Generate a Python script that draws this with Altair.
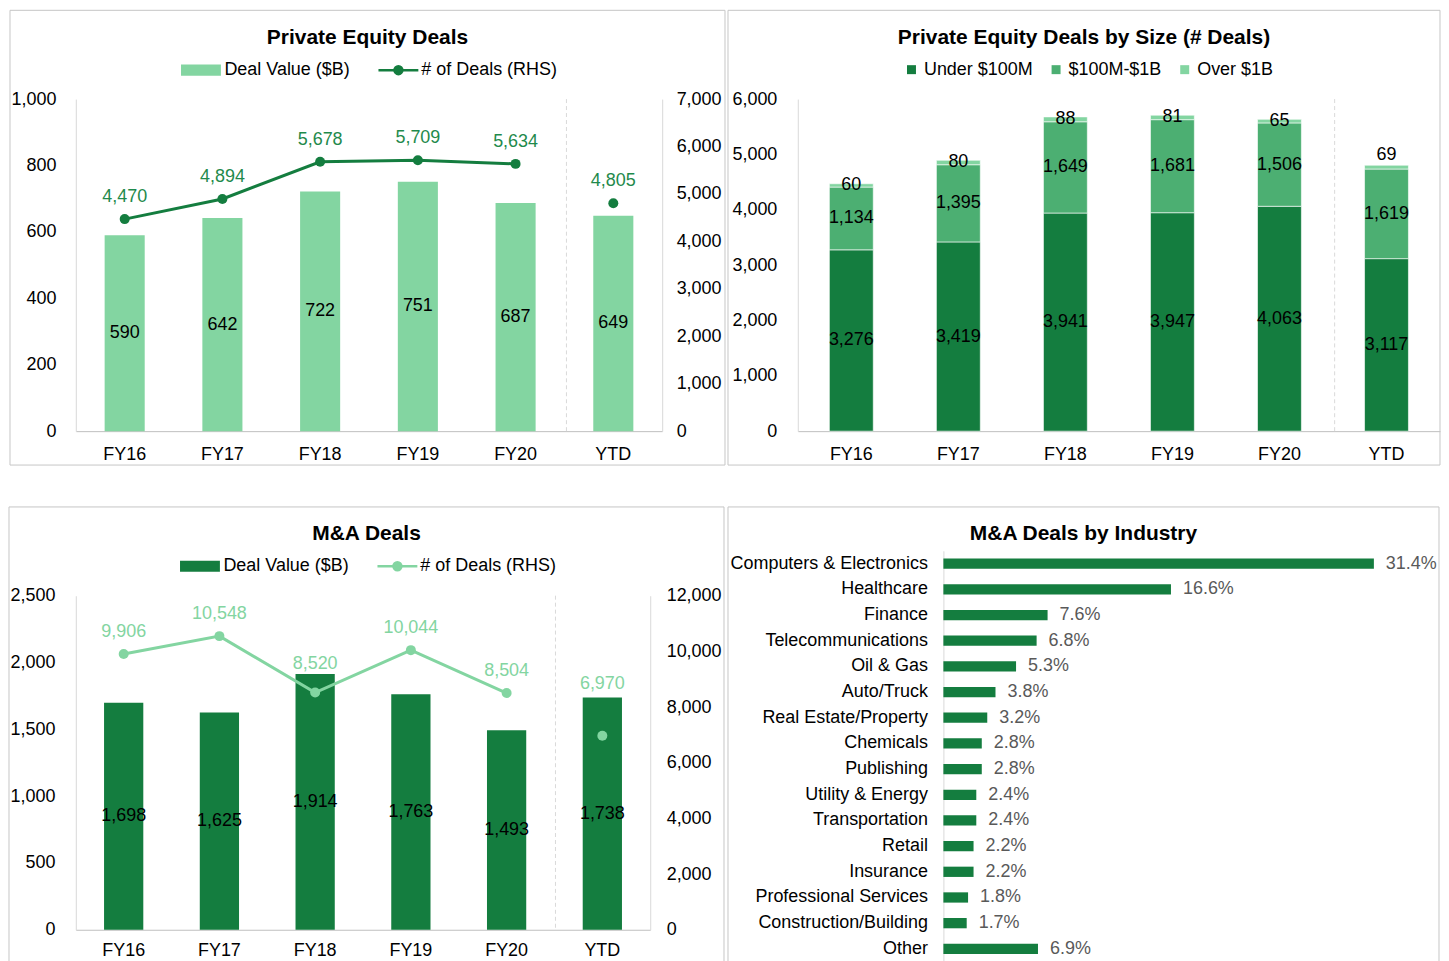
import altair as alt
import pandas as pd

# ---------------- data ----------------
cats = ["FY16", "FY17", "FY18", "FY19", "FY20", "YTD"]

pe_value = [590, 642, 722, 751, 687, 649]
pe_deals = [4470, 4894, 5678, 5709, 5634, 4805]

size_series = ["Under $100M", "$100M-$1B", "Over $1B"]
size_under = [3276, 3419, 3941, 3947, 4063, 3117]
size_mid = [1134, 1395, 1649, 1681, 1506, 1619]
size_over = [60, 80, 88, 81, 65, 69]

ma_value = [1698, 1625, 1914, 1763, 1493, 1738]
ma_deals = [9906, 10548, 8520, 10044, 8504, 6970]

industries = ["Computers & Electronics", "Healthcare", "Finance", "Telecommunications",
              "Oil & Gas", "Auto/Truck", "Real Estate/Property", "Chemicals", "Publishing",
              "Utility & Energy", "Transportation", "Retail", "Insurance",
              "Professional Services", "Construction/Building", "Other"]
industry_pct = [31.4, 16.6, 7.6, 6.8, 5.3, 3.8, 3.2, 2.8, 2.8, 2.4, 2.4, 2.2, 2.2, 1.8, 1.7, 6.9]

pe_left_ticks = [0, 200, 400, 600, 800, 1000]
pe_right_ticks = [0, 1000, 2000, 3000, 4000, 5000, 6000, 7000]
size_ticks = [0, 1000, 2000, 3000, 4000, 5000, 6000]
ma_left_ticks = [0, 500, 1000, 1500, 2000, 2500]
ma_right_ticks = [0, 2000, 4000, 6000, 8000, 10000, 12000]

# ---------------- style ----------------
FONT = "Liberation Sans"
FS = 18
DARK = "#147d3f"
MID = "#4caf72"
LIGHT = "#83d5a1"
PE_LABEL = "#1f8a4c"
VGRAY = "#d9d9d9"
HGRAY = "#bfbfbf"
BORDER = "#c6c6c6"
PCT_GRAY = "#595959"

BAR_SYMBOL = "M-1,-0.28H1V0.28H-1Z"
LINE_SYMBOL = "M-1,0H1M0.2,0A0.2,0.2,0,1,1,-0.2,0A0.2,0.2,0,1,1,0.2,0Z"
TITLE_OFFSET = -49


def title_params(text):
    return alt.TitleParams(text, font=FONT, fontSize=21, fontWeight="bold", color="black",
                           anchor="middle", frame="bounds", offset=TITLE_OFFSET,
                           baseline="middle")


def frame(x1, x2, y1, y2):
    return alt.Chart(pd.DataFrame({"frame": [0]})).mark_rect(
        fillOpacity=0, stroke=BORDER, strokeWidth=1
    ).encode(x=alt.value(x1), x2=alt.value(x2), y=alt.value(y1), y2=alt.value(y2))


def x_enc(pad):
    return alt.X("cat:N", sort=cats, title=None,
                 scale=alt.Scale(paddingInner=0.59, paddingOuter=0.295),
                 axis=alt.Axis(labelAngle=0, ticks=False, tickSize=0, domainColor=HGRAY,
                               labelPadding=pad, labelFont=FONT, labelFontSize=FS,
                               labelColor="black", grid=False, title=None))


def y_axis(values, orient, pad):
    return alt.Axis(orient=orient, values=values, format=",.0f", ticks=False, tickSize=0,
                    grid=False, domainColor=VGRAY, labelPadding=pad, labelFont=FONT,
                    labelFontSize=FS, labelColor="black", title=None)


def legend(x, y, symbol, offset, stroke_color=None, stroke_width=0, size=1600, **kw):
    args = dict(title=None, orient="none", legendX=x, legendY=y, symbolType=symbol,
                symbolSize=size, symbolStrokeWidth=stroke_width, labelOffset=offset,
                labelFont=FONT, labelFontSize=FS, labelColor="black", padding=0,
                labelLimit=400)
    if stroke_color:
        args["symbolStrokeColor"] = stroke_color
    args.update(kw)
    return alt.Legend(**args)


def combo_panel(title, values, deals, bar_color, line_color, label_color, left_ticks,
                right_ticks, W, H, fr, rule_dx, lab_dy, special_dy, xpad, lpad, rpad,
                leg_bar, leg_line):
    df = pd.DataFrame({"cat": cats, "value": values, "deals": deals,
                       "bar_series": ["Deal Value ($B)"] * len(cats),
                       "line_series": ["# of Deals (RHS)"] * len(cats)})
    base = alt.Chart(df)
    x = x_enc(xpad)
    yl_scale = alt.Scale(domain=[left_ticks[0], left_ticks[-1]], nice=False)
    yl_axis = y_axis(left_ticks, "left", lpad)
    yr_scale = alt.Scale(domain=[right_ticks[0], right_ticks[-1]], nice=False)
    yr_axis = y_axis(right_ticks, "right", rpad)

    bars = base.mark_bar().encode(
        x=x,
        y=alt.Y("value:Q", scale=yl_scale, axis=yl_axis),
        color=alt.Color("bar_series:N", scale=alt.Scale(range=[bar_color]),
                        legend=legend(leg_bar[0], leg_bar[1], BAR_SYMBOL, leg_bar[2])),
    )
    bar_text = base.transform_calculate(mid="datum.value / 2").mark_text(
        font=FONT, fontSize=FS, color="black", baseline="middle"
    ).encode(x=x, y=alt.Y("mid:Q", scale=yl_scale, axis=yl_axis),
             text=alt.Text("value:Q", format=","))
    rule = base.transform_filter("datum.cat == 'YTD'").mark_rule(
        xOffset=rule_dx, color=VGRAY, strokeDash=[4, 3], strokeWidth=1
    ).encode(x=x)
    left = alt.layer(frame(*fr), bars, bar_text, rule)

    yr = alt.Y("deals:Q", scale=yr_scale, axis=yr_axis)
    line = base.transform_filter("datum.cat != 'YTD'").mark_line(
        color=line_color, strokeWidth=3).encode(x=x, y=yr)
    pts = base.mark_circle(size=100, opacity=1).encode(
        x=x, y=yr,
        color=alt.Color("line_series:N", scale=alt.Scale(range=[line_color]),
                        legend=legend(leg_line[0], leg_line[1], LINE_SYMBOL, leg_line[2],
                                      stroke_color=line_color, stroke_width=2.5)),
    )
    special_list = "[" + ",".join("'%s'" % c for c in special_dy) + "]"
    texts = [base.transform_filter("indexof(%s, datum.cat) < 0" % special_list).mark_text(
        font=FONT, fontSize=FS, color=label_color, baseline="middle", dy=lab_dy
    ).encode(x=x, y=yr, text=alt.Text("deals:Q", format=","))]
    for c, d in special_dy.items():
        texts.append(base.transform_filter("datum.cat == '%s'" % c).mark_text(
            font=FONT, fontSize=FS, color=label_color, baseline="middle", dy=d
        ).encode(x=x, y=yr, text=alt.Text("deals:Q", format=",")))
    right = alt.layer(line, pts, *texts)

    return alt.layer(left, right).resolve_scale(y="independent", color="independent").properties(
        width=W, height=H, title=title_params(title))


# ---------- Top-left: Private Equity Deals ----------
tl = combo_panel("Private Equity Deals", pe_value, pe_deals, LIGHT, DARK, PE_LABEL,
                 pe_left_ticks, pe_right_ticks, 588, 333, (-66, 651, -89, 367),
                 -47, -22, {"YTD": -22}, 14, 20, 14, (105.5, -49, 3.5), (302, -50.5, 1.5))

# ---------- Top-right: PE deals by size ----------
size_df = pd.DataFrame({
    "cat": cats * 3,
    "series": [s for s in size_series for _ in cats],
    "value": size_under + size_mid + size_over,
    "order": [i for i in range(3) for _ in cats],
})
sbase = alt.Chart(size_df).transform_stack(
    stack="value", groupby=["cat"], as_=["v0", "v1"],
    sort=[alt.SortField("order", order="ascending")]
).transform_calculate(mid="(datum.v0 + datum.v1) / 2")
sx = x_enc(14)
s_scale = alt.Scale(domain=[0, 6000], nice=False)
s_axis = y_axis(size_ticks, "left", 21)
s_bars = sbase.mark_bar(stroke="white", strokeWidth=0.6).encode(
    x=sx,
    y=alt.Y("v0:Q", scale=s_scale, axis=s_axis),
    y2="v1:Q",
    color=alt.Color("series:N", sort=size_series,
                    scale=alt.Scale(domain=size_series, range=[DARK, MID, LIGHT]),
                    legend=legend(105, -38.5, "square", 3.5, size=81, direction="horizontal",
                                  columnPadding=14)),
)
s_text = sbase.transform_filter("!(datum.cat == 'YTD' && datum.series == 'Over $1B')").mark_text(
    font=FONT, fontSize=FS, color="black", baseline="middle"
).encode(x=sx, y=alt.Y("mid:Q", scale=s_scale, axis=s_axis),
         text=alt.Text("value:Q", format=","))
s_text_ytd = sbase.transform_filter("datum.cat == 'YTD' && datum.series == 'Over $1B'").mark_text(
    font=FONT, fontSize=FS, color="black", baseline="middle", dy=-12
).encode(x=sx, y=alt.Y("mid:Q", scale=s_scale, axis=s_axis),
         text=alt.Text("value:Q", format=","))
s_rule = alt.Chart(pd.DataFrame({"cat": cats})).transform_filter("datum.cat == 'YTD'").mark_rule(
    xOffset=-52, color=VGRAY, strokeDash=[4, 3], strokeWidth=1).encode(x=sx)
tr = alt.layer(frame(-70, 644, -89, 367), s_bars, s_text, s_text_ytd, s_rule).properties(
    width=644, height=333, title=title_params("Private Equity Deals by Size (# Deals)"))

# ---------- Bottom-left: M&A Deals ----------
bl = combo_panel("M&A Deals", ma_value, ma_deals, DARK, LIGHT, LIGHT,
                 ma_left_ticks, ma_right_ticks, 576, 335, (-67, 650, -89, 367),
                 -47, -22, {"FY18": -29, "YTD": -52}, 12, 21, 16,
                 (104.5, -49.5, 3.5), (301, -51, 1.5))

# ---------- Bottom-right: M&A by industry ----------
ind_df = pd.DataFrame({"industry": industries, "pct": industry_pct})
ibase = alt.Chart(ind_df)
iy = alt.Y("industry:N", sort=industries, title=None,
           scale=alt.Scale(paddingInner=0.6, paddingOuter=0.3),
           axis=alt.Axis(ticks=False, tickSize=0, domainColor=VGRAY, labelPadding=16,
                         labelFont=FONT, labelFontSize=FS, labelColor="black", grid=False,
                         title=None, labelLimit=400))
ix = alt.X("pct:Q", scale=alt.Scale(domain=[0, 36.15], nice=False), axis=None)
i_bars = ibase.mark_bar(color=DARK).encode(x=ix, y=iy)
i_text = ibase.transform_calculate(label="format(datum.pct, '.1f') + '%'").mark_text(
    align="left", baseline="middle", dx=12, font=FONT, fontSize=FS, color=PCT_GRAY
).encode(x=ix, y=iy, text="label:N")
br = alt.layer(frame(-216, 497, -44, 412), i_bars, i_text).properties(
    width=497, height=412, title=title_params("M&A Deals by Industry"))

chart = alt.concat(tl, tr, bl, br, columns=2, align="none",
                   spacing={"row": 40, "column": 1}).resolve_scale(
    color="independent"
).properties(
    padding=0, background="white"
).configure(font=FONT).configure_view(stroke="transparent")

chart.save("out.html", embed_options={"renderer": "svg", "actions": False})
